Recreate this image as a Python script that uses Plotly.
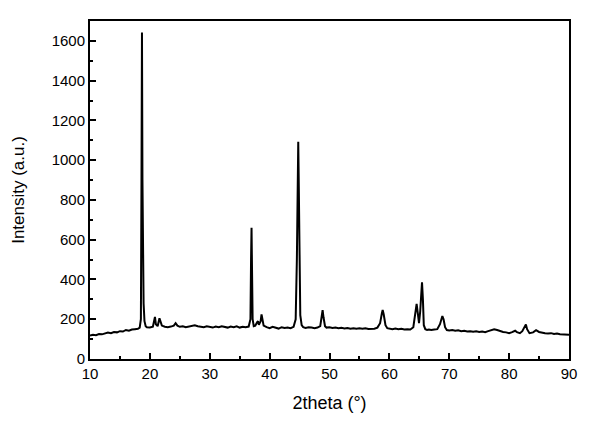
import plotly.graph_objects as go

two_theta = [
    10.0, 10.5, 11.0, 11.5, 12.0, 12.5, 13.0, 13.5, 14.0, 14.5, 15.0, 15.5, 16.0, 16.5, 17.0, 17.5, 18.0, 18.3,
    18.5, 18.6, 18.68, 18.76, 18.85, 18.95, 19.1, 19.3, 19.5, 20.0, 20.5, 20.7, 20.85, 21.0, 21.3, 21.6, 21.8,
    22.0, 22.5, 23.0, 23.5, 24.0, 24.3, 24.6, 25.0, 25.5, 26.0, 26.5, 27.0, 27.5, 28.0, 28.5, 29.0, 29.5,
    30.0, 30.5, 31.0, 31.5, 32.0, 32.5, 33.0, 33.5, 34.0, 34.5, 35.0, 35.5, 36.0, 36.5, 36.8, 36.9, 36.98,
    37.06, 37.16, 37.35, 37.6, 37.9, 38.05, 38.2, 38.5, 38.65, 38.8, 39.0, 39.5, 40.0, 40.5, 41.0, 41.5,
    42.0, 42.5, 43.0, 43.5, 44.0, 44.35, 44.55, 44.68, 44.78, 44.88, 44.98, 45.12, 45.35, 45.6, 46.0, 46.5,
    47.0, 47.5, 48.0, 48.45, 48.7, 48.85, 49.0, 49.25, 49.5, 50.0, 50.5, 51.0, 51.5, 52.0, 52.5, 53.0, 53.5,
    54.0, 54.5, 55.0, 55.5, 56.0, 56.5, 57.0, 57.5, 58.0, 58.45, 58.75, 58.88, 59.05, 59.35, 59.65, 60.0,
    60.5, 61.0, 61.5, 62.0, 62.5, 63.0, 63.5, 64.0, 64.3, 64.55, 64.75, 64.95, 65.15, 65.45, 65.6, 65.75,
    66.0, 66.3, 66.6, 67.0, 67.5, 68.0, 68.45, 68.7, 68.85, 69.05, 69.3, 69.6, 70.0, 70.5, 71.0, 71.5, 72.0,
    72.5, 73.0, 73.5, 74.0, 74.5, 75.0, 75.5, 76.0, 76.5, 77.0, 77.5, 78.0, 78.5, 79.0, 79.5, 80.0, 80.5,
    81.0, 81.3, 81.8, 82.2, 82.6, 82.8, 83.0, 83.4, 84.0, 84.5, 85.0, 85.5, 86.0, 86.5, 87.0, 87.5, 88.0,
    88.5, 89.0, 89.5, 90.0,
]
intensity = [
    118, 122, 120, 126, 124, 130, 133, 130, 136, 134, 140, 138, 146, 142, 148, 150, 152, 158,
    200, 900, 1642, 900, 310, 280, 190, 165, 160, 158, 162, 190, 212, 175, 165, 205, 185,
    168, 162, 160, 163, 168, 180, 168, 162, 165, 160, 163, 166, 170, 165, 162, 160, 164,
    162, 158, 163, 160, 165, 161, 158, 163, 160, 164, 158, 162, 160, 163, 200, 500, 660,
    450, 200, 165, 168, 185, 190, 172, 190, 224, 195, 168, 160, 155, 162, 158, 153,
    160, 156, 158, 155, 162, 200, 500, 900, 1092, 850, 450, 220, 170, 160, 156, 160,
    158, 155, 158, 165, 215, 246, 210, 165, 158, 160, 156, 158, 155, 157, 154, 156, 152,
    155, 152, 154, 152, 155, 151, 153, 152, 158, 180, 230, 246, 225, 170, 155, 152,
    150, 153, 150, 152, 148, 150, 148, 160, 230, 277, 230, 180, 240, 386, 300, 170,
    150, 146, 148, 146, 148, 150, 175, 205, 216, 200, 160, 146, 144, 146, 142, 144, 140,
    142, 138, 140, 137, 139, 136, 138, 135, 140, 145, 150, 146, 140, 136, 134, 130, 135,
    142, 135, 130, 140, 165, 174, 150, 130, 134, 145, 136, 132, 130, 128, 130, 126, 128,
    125, 124, 126, 122,
]

x_ticks = [10, 20, 30, 40, 50, 60, 70, 80, 90]
y_ticks = [0, 200, 400, 600, 800, 1000, 1200, 1400, 1600]

fig = go.Figure()
fig.add_trace(go.Scatter(
    x=two_theta, y=intensity, mode="lines",
    line=dict(color="black", width=2),
    showlegend=False,
))

font = dict(family="Liberation Sans, Arial, sans-serif", color="black")

# page body adds an 8px offset, margins compensate for it
fig.update_layout(
    width=600, height=423,
    margin=dict(l=82, r=39, t=13, b=72),
    paper_bgcolor="white", plot_bgcolor="white",
    font=font,
)
fig.update_xaxes(
    range=[10, 90], tickvals=x_ticks, ticktext=[str(v) for v in x_ticks],
    ticks="inside", ticklen=6, tickwidth=2, tickcolor="black",
    minor=dict(ticks="inside", ticklen=3, tickwidth=2, tickcolor="black", dtick=5, tick0=10),
    showline=True, linecolor="black", linewidth=2, mirror=True,
    showgrid=False, zeroline=False, automargin=False,
    tickfont=dict(size=15, **font),
    title=dict(text="2theta (°)", font=dict(size=18, **font), standoff=15),
)
fig.update_yaxes(
    range=[0, 1700], tickvals=y_ticks, ticktext=[str(v) for v in y_ticks],
    ticks="inside", ticklen=6, tickwidth=2, tickcolor="black",
    minor=dict(ticks="inside", ticklen=3, tickwidth=2, tickcolor="black", dtick=100, tick0=0),
    showline=True, linecolor="black", linewidth=2, mirror=True,
    showgrid=False, zeroline=False, automargin=False,
    tickfont=dict(size=15, **font),
    title=dict(text="Intensity (a.u.)", font=dict(size=17, **font), standoff=23),
)

fig.write_html("out.html")
